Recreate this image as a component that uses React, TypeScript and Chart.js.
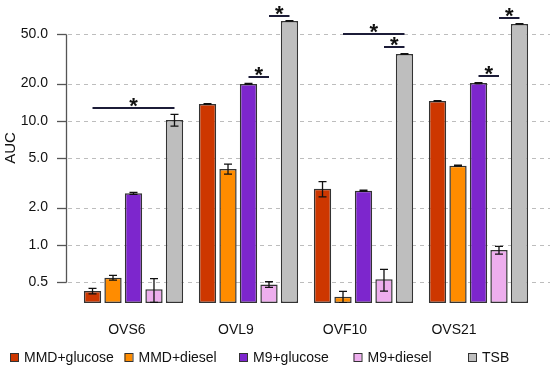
import React, { useEffect, useRef } from 'react';
import { Chart, registerables } from 'chart.js';
Chart.register(...registerables);

const categories = ['OVS6', 'OVL9', 'OVF10', 'OVS21'];
const seriesNames = ['MMD+glucose', 'MMD+diesel', 'M9+glucose', 'M9+diesel', 'TSB'];
const seriesColors = ['#CD3700', '#FF8C00', '#7D26CD', '#EEAEEE', '#BEBEBE'];

const mmdGlucose = [0.425, 13.7, 2.84, 14.5];
const mmdDiesel = [0.545, 4.1, 0.383, 4.36];
const m9Glucose = [2.61, 19.9, 2.74, 20.2];
const m9Diesel = [0.44, 0.48, 0.53, 0.91];
const tsb = [10.2, 64, 34.7, 60.6];

const mmdGlucoseErr = [0.021, 0.1, 0.4, 0.1];
const mmdDieselErr = [0.024, 0.38, 0.04, 0.04];
const m9GlucoseErr = [0.05, 0.2, 0.03, 0.15];
const m9DieselErr = [0.095, 0.025, 0.105, 0.065];
const tsbErr = [1.1, 0.3, 0.2, 0.3];

const yTicks = [0.5, 1, 2, 5, 10, 20, 50];
const yTickLabels = ['0.5', '1.0', '2.0', '5.0', '10.0', '20.0', '50.0'];
const yMin = 0.3405;
const yMax = 87.7;

// significance brackets: category index, from series, to series, level (AUC)
const sigGroup = [0, 1, 1, 2, 2, 3, 3];
const sigFrom = [0, 2, 3, 1, 3, 2, 3];
const sigTo = [4, 3, 4, 4, 4, 3, 4];
const sigLevel = [12.8, 22.8, 70.7, 50.3, 39.3, 23.1, 68.1];

const seriesValues = [mmdGlucose, mmdDiesel, m9Glucose, m9Diesel, tsb];
const seriesErrors = [mmdGlucoseErr, mmdDieselErr, m9GlucoseErr, m9DieselErr, tsbErr];

const labelMin = -0.4668;
const labelMax = 3.752;

const FONT = "'Liberation Sans', Arial, Helvetica, sans-serif";

const decorPlugin = {
  id: 'decor',
  beforeDatasetsDraw(chart: any) {
    const { ctx, chartArea } = chart;
    const y = chart.scales.y;
    const axisX = chartArea.left - 10;
    ctx.save();
    ctx.strokeStyle = '#bdbdbd';
    ctx.lineWidth = 1;
    ctx.setLineDash([4, 4]);
    yTicks.forEach((v) => {
      const py = Math.round(y.getPixelForValue(v)) + 0.5;
      ctx.beginPath();
      ctx.moveTo(axisX + 2, py);
      ctx.lineTo(chart.width, py);
      ctx.stroke();
    });
    ctx.setLineDash([]);
    ctx.strokeStyle = '#555';
    ctx.lineWidth = 1.3;
    const top = Math.round(y.getPixelForValue(yTicks[yTicks.length - 1])) + 0.5;
    const bot = Math.round(y.getPixelForValue(yTicks[0])) + 0.5;
    ctx.beginPath();
    ctx.moveTo(axisX + 0.5, top);
    ctx.lineTo(axisX + 0.5, bot);
    ctx.stroke();
    yTicks.forEach((v) => {
      const py = Math.round(y.getPixelForValue(v)) + 0.5;
      ctx.beginPath();
      ctx.moveTo(axisX - 9, py);
      ctx.lineTo(axisX + 0.5, py);
      ctx.stroke();
    });
    ctx.fillStyle = '#111';
    ctx.font = `15px ${FONT}`;
    ctx.textAlign = 'center';
    ctx.textBaseline = 'middle';
    ctx.translate(11, 148);
    ctx.rotate(-Math.PI / 2);
    ctx.fillText('AUC', 0, 0);
    ctx.restore();
  },
  afterDatasetsDraw(chart: any) {
    const { ctx, chartArea } = chart;
    const y = chart.scales.y;
    ctx.save();
    ctx.beginPath();
    ctx.rect(chartArea.left - 20, chartArea.top - 10, chartArea.right - chartArea.left + 40, chartArea.bottom - chartArea.top + 10);
    ctx.clip();
    ctx.strokeStyle = '#111';
    ctx.lineWidth = 1.3;
    seriesValues.forEach((vals, si) => {
      const meta = chart.getDatasetMeta(si);
      vals.forEach((v, ci) => {
        const el = meta.data[ci];
        const e = seriesErrors[si][ci];
        const x = el.x;
        const hi = y.getPixelForValue(v + e);
        const lo = y.getPixelForValue(Math.max(v - e, 0.0001));
        ctx.beginPath();
        ctx.moveTo(x, hi);
        ctx.lineTo(x, lo);
        ctx.moveTo(x - 4, hi);
        ctx.lineTo(x + 4, hi);
        ctx.moveTo(x - 4, lo);
        ctx.lineTo(x + 4, lo);
        ctx.stroke();
      });
    });
    ctx.restore();
    ctx.save();
    ctx.strokeStyle = '#1c1c38';
    ctx.fillStyle = '#111';
    ctx.lineWidth = 2;
    ctx.font = `bold 22px ${FONT}`;
    ctx.textAlign = 'center';
    ctx.textBaseline = 'alphabetic';
    sigGroup.forEach((g, k) => {
      const x1 = chart.getDatasetMeta(sigFrom[k]).data[g].x;
      const x2 = chart.getDatasetMeta(sigTo[k]).data[g].x;
      const py = Math.round(y.getPixelForValue(sigLevel[k]));
      ctx.beginPath();
      ctx.moveTo(x1, py);
      ctx.lineTo(x2, py);
      ctx.stroke();
      ctx.fillText('*', (x1 + x2) / 2, py + 5);
    });
    ctx.restore();
  },
  afterDraw(chart: any) {
    const { ctx } = chart;
    ctx.save();
    ctx.font = `14px ${FONT}`;
    ctx.textAlign = 'left';
    ctx.textBaseline = 'middle';
    seriesNames.forEach((name, i) => {
      const x0 = 10 + i * 114.5;
      ctx.fillStyle = seriesColors[i];
      ctx.fillRect(x0, 353.5, 8, 8);
      ctx.strokeStyle = '#333';
      ctx.lineWidth = 1;
      ctx.strokeRect(x0 + 0.5, 353.5, 8, 8);
      ctx.fillStyle = '#111';
      ctx.fillText(name, x0 + 14, 358);
    });
    ctx.restore();
  },
};

export default function App() {
  const ref = useRef<HTMLCanvasElement | null>(null);
  useEffect(() => {
    if (!ref.current) return;
    Chart.defaults.font.family = FONT;
    Chart.defaults.font.size = 14;
    Chart.defaults.color = '#111';
    const chart = new Chart(ref.current, {
      type: 'bar',
      data: {
        labels: categories,
        datasets: seriesNames.map((name, i) => ({
          label: name,
          data: seriesValues[i],
          backgroundColor: seriesColors[i],
          borderColor: '#333',
          borderWidth: 1.5,
          borderSkipped: false,
          categoryPercentage: 0.891,
          barPercentage: 0.844,
        })),
      },
      options: {
        animation: false,
        responsive: true,
        maintainAspectRatio: false,
        devicePixelRatio: 1,
        layout: { padding: { left: 0, right: 14, top: 4, bottom: 0 } },
        plugins: { legend: { display: false }, tooltip: { enabled: false } },
        scales: {
          x: { type: 'category', display: false },
          xl: {
            type: 'linear',
            position: 'bottom',
            bounds: 'data',
            offset: false,
            min: labelMin,
            max: labelMax,
            grid: { display: false, drawTicks: false, offset: false },
            border: { display: false },
            afterBuildTicks: (s: any) => {
              s.ticks = categories.map((_, i) => ({ value: i }));
            },
            afterFit: (s: any) => {
              s.height = 66;
              s.paddingLeft = 0;
              s.paddingRight = 0;
            },
            ticks: {
              padding: 19,
              color: '#111',
              font: { size: 14 },
              autoSkip: false,
              maxRotation: 0,
              callback: (v: any) => categories[Math.round(Number(v))] ?? '',
            },
          },
          y: {
            type: 'logarithmic',
            bounds: 'data',
            min: yMin,
            max: yMax,
            grid: { display: false, drawTicks: false },
            border: { display: false },
            afterBuildTicks: (s: any) => {
              s.ticks = yTicks.map((v) => ({ value: v }));
            },
            afterFit: (s: any) => {
              s.width = 76;
              s.paddingTop = 0;
              s.paddingBottom = 0;
            },
            ticks: {
              padding: 28,
              color: '#111',
              font: { size: 14 },
              autoSkip: false,
              callback: (v: any) => {
                const i = yTicks.indexOf(Number(v));
                return i >= 0 ? yTickLabels[i] : '';
              },
            },
          },
        },
      },
      plugins: [decorPlugin],
    });
    return () => chart.destroy();
  }, []);
  return (
    <div style={{ position: 'fixed', left: 0, top: 0, width: 550, height: 369, background: '#fff' }}>
      <canvas ref={ref} />
    </div>
  );
}
